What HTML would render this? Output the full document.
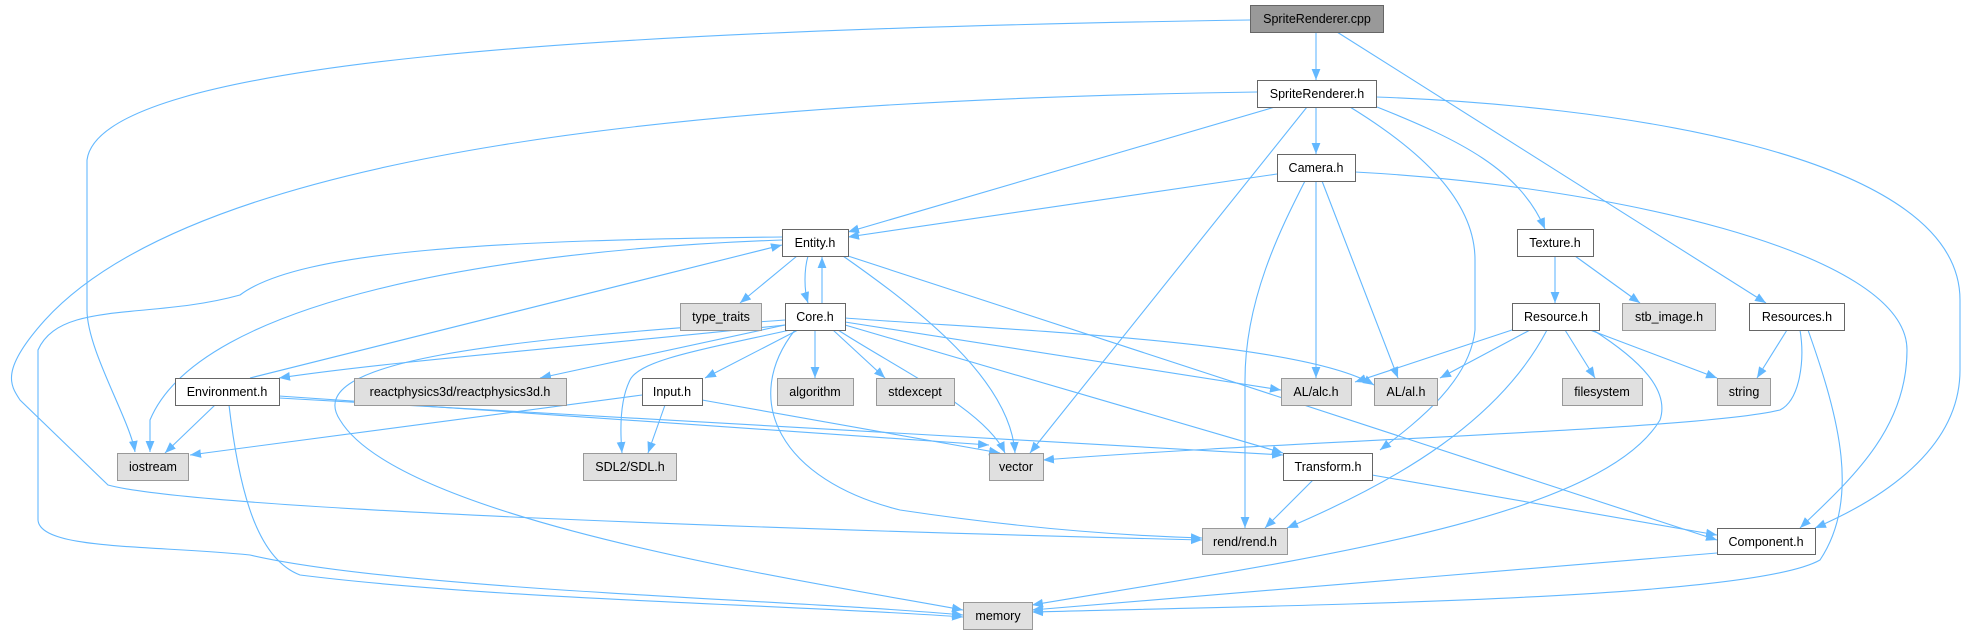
<!DOCTYPE html>
<html><head><meta charset="utf-8"><style>
body{margin:0;background:#fff;}
svg{display:block}
text{font-family:"Liberation Sans",Arial,sans-serif;font-size:12.5px;fill:#000;text-anchor:middle}
.e{fill:none;stroke:#63b8ff;stroke-width:1.1}
.w{fill:#fff;stroke:#666;stroke-width:1}
.g{fill:#e0e0e0;stroke:#999;stroke-width:1}
.c{fill:#999;stroke:#666;stroke-width:1}
</style></head><body>
<svg width="1965" height="635" viewBox="0 0 1965 635">
<defs><marker id="a" viewBox="0 0 10 10" refX="10" refY="5" markerWidth="11" markerHeight="11" markerUnits="userSpaceOnUse" orient="auto"><path d="M0,1 L10,5 L0,9 z" fill="#63b8ff"/></marker></defs>
<g marker-end="url(#a)">
<path class="e" d="M1250,20 C600,30 100,60 87,160 L87,310 C87,350 130,420 135,452"/>
<path class="e" d="M1316,32 L1316,80"/>
<path class="e" d="M1337,32 L1766,303"/>
<path class="e" d="M1257,92 C700,100 200,150 45,320 C0,370 10,385 20,400 L108,485 C200,510 800,530 1202,540"/>
<path class="e" d="M782,237 C500,240 300,250 240,295 C150,320 60,300 38,350 L38,520 C40,550 150,545 250,555 C400,590 800,600 963,615"/>
<path class="e" d="M782,240 C500,250 200,300 150,420 L150,452"/>
<path class="e" d="M229,405 C240,500 260,560 300,575 C500,600 800,605 963,617"/>
<path class="e" d="M785,320 C500,340 300,360 340,420 C400,520 800,580 963,610"/>
<path class="e" d="M250,378 L782,245"/>
<path class="e" d="M785,325 C600,345 400,360 279,378"/>
<path class="e" d="M785,325 L540,378"/>
<path class="e" d="M798,330 L705,378"/>
<path class="e" d="M790,330 C700,350 640,360 630,380 C620,400 620,430 622,453"/>
<path class="e" d="M815,330 L815,378"/>
<path class="e" d="M833,330 L885,378"/>
<path class="e" d="M838,330 C900,370 985,410 1005,453"/>
<path class="e" d="M845,322 L1281,390"/>
<path class="e" d="M845,318 C1000,330 1300,340 1374,385"/>
<path class="e" d="M845,325 L1283,453"/>
<path class="e" d="M795,330 C740,400 780,480 900,510 C1000,525 1100,535 1202,538"/>
<path class="e" d="M822,303 L822,257"/>
<path class="e" d="M808,256 C804,270 804,290 808,303"/>
<path class="e" d="M797,256 L740,303"/>
<path class="e" d="M843,256 C920,310 1010,380 1015,453"/>
<path class="e" d="M848,256 L1717,540"/>
<path class="e" d="M215,405 L165,453"/>
<path class="e" d="M279,396 L989,445"/>
<path class="e" d="M279,398 L1283,455"/>
<path class="e" d="M642,395 L190,455"/>
<path class="e" d="M665,405 L648,453"/>
<path class="e" d="M702,400 L1000,453"/>
<path class="e" d="M1275,107 L848,232"/>
<path class="e" d="M1307,107 L1030,453"/>
<path class="e" d="M1316,107 L1316,154"/>
<path class="e" d="M1350,107 C1420,150 1475,200 1475,260 L1475,330 C1470,380 1420,420 1380,450"/>
<path class="e" d="M1377,107 C1460,140 1520,170 1545,229"/>
<path class="e" d="M1376,97 C1600,105 1960,150 1960,300 L1960,370 C1960,450 1880,500 1815,528"/>
<path class="e" d="M1277,174 L848,237"/>
<path class="e" d="M1305,181 C1280,230 1245,300 1245,380 L1245,528"/>
<path class="e" d="M1316,181 L1316,378"/>
<path class="e" d="M1322,181 L1398,378"/>
<path class="e" d="M1355,172 C1600,185 1907,250 1907,350 C1907,430 1850,480 1800,528"/>
<path class="e" d="M1555,256 L1555,303"/>
<path class="e" d="M1575,256 L1640,303"/>
<path class="e" d="M1512,330 L1355,382"/>
<path class="e" d="M1530,330 L1440,378"/>
<path class="e" d="M1565,330 L1595,378"/>
<path class="e" d="M1590,330 L1717,378"/>
<path class="e" d="M1547,330 C1500,420 1400,480 1287,528"/>
<path class="e" d="M1593,330 C1640,360 1670,390 1660,420 C1600,520 1300,560 1032,605"/>
<path class="e" d="M1787,330 L1757,378"/>
<path class="e" d="M1800,330 C1805,360 1800,400 1780,410 C1700,430 1300,440 1043,460"/>
<path class="e" d="M1808,330 C1840,420 1860,500 1820,560 C1750,600 1300,605 1032,612"/>
<path class="e" d="M1313,480 L1265,528"/>
<path class="e" d="M1372,475 L1717,535"/>
<path class="e" d="M1717,553 L1032,610"/>
</g>
<rect class="c" x="1250.5" y="5.5" width="133" height="27"/><text x="1317" y="23">SpriteRenderer.cpp</text>
<rect class="w" x="1257.5" y="80.5" width="119" height="27"/><text x="1317" y="98">SpriteRenderer.h</text>
<rect class="w" x="1277.5" y="154.5" width="78" height="27"/><text x="1316" y="172">Camera.h</text>
<rect class="w" x="1517.5" y="229.5" width="76" height="27"/><text x="1555" y="247">Texture.h</text>
<rect class="w" x="1512.5" y="303.5" width="87" height="27"/><text x="1556" y="321">Resource.h</text>
<rect class="g" x="1622.5" y="303.5" width="93" height="27"/><text x="1669" y="321">stb_image.h</text>
<rect class="w" x="1749.5" y="303.5" width="95" height="27"/><text x="1797" y="321">Resources.h</text>
<rect class="w" x="782.5" y="229.5" width="66" height="27"/><text x="815" y="247">Entity.h</text>
<rect class="g" x="680.5" y="303.5" width="81" height="27"/><text x="721" y="321">type_traits</text>
<rect class="w" x="785.5" y="303.5" width="60" height="27"/><text x="815" y="321">Core.h</text>
<rect class="w" x="175.5" y="378.5" width="104" height="27"/><text x="227" y="396">Environment.h</text>
<rect class="g" x="354.5" y="378.5" width="212" height="27"/><text x="460" y="396">reactphysics3d/reactphysics3d.h</text>
<rect class="w" x="642.5" y="378.5" width="60" height="27"/><text x="672" y="396">Input.h</text>
<rect class="g" x="777.5" y="378.5" width="76" height="27"/><text x="815" y="396">algorithm</text>
<rect class="g" x="876.5" y="378.5" width="78" height="27"/><text x="915" y="396">stdexcept</text>
<rect class="g" x="1281.5" y="378.5" width="70" height="27"/><text x="1316" y="396">AL/alc.h</text>
<rect class="g" x="1374.5" y="378.5" width="63" height="27"/><text x="1406" y="396">AL/al.h</text>
<rect class="g" x="1562.5" y="378.5" width="80" height="27"/><text x="1602" y="396">filesystem</text>
<rect class="g" x="1717.5" y="378.5" width="53" height="27"/><text x="1744" y="396">string</text>
<rect class="g" x="117.5" y="453.5" width="71" height="27"/><text x="153" y="471">iostream</text>
<rect class="g" x="583.5" y="453.5" width="93" height="27"/><text x="630" y="471">SDL2/SDL.h</text>
<rect class="g" x="989.5" y="453.5" width="54" height="27"/><text x="1016" y="471">vector</text>
<rect class="w" x="1283.5" y="453.5" width="89" height="27"/><text x="1328" y="471">Transform.h</text>
<rect class="g" x="1202.5" y="528.5" width="85" height="26"/><text x="1245" y="546">rend/rend.h</text>
<rect class="w" x="1717.5" y="528.5" width="98" height="26"/><text x="1766" y="546">Component.h</text>
<rect class="g" x="963.5" y="602.5" width="69" height="27"/><text x="998" y="620">memory</text>
</svg>
</body></html>
